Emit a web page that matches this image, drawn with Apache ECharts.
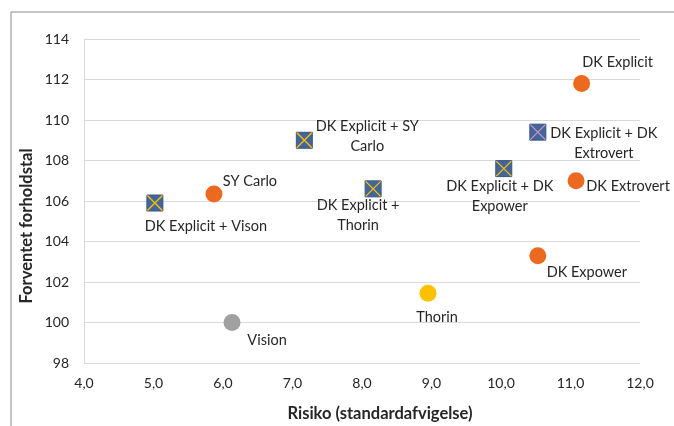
<!DOCTYPE html>
<html>
<head>
<meta charset="utf-8">
<script src="https://cdn.jsdelivr.net/npm/echarts@6/dist/echarts.min.js"></script>
<style>
  html, body { margin: 0; padding: 0; background: #fff; }
  #chart { width: 674px; height: 426px; }
</style>
</head>
<body>
<div id="chart"></div>
<script>
// enkeltstrategier (cirkler)
var singleNames  = ['DK Explicit', 'DK Extrovert', 'DK Expower', 'SY Carlo', 'Thorin', 'Vision'];
var singleRisk   = [11.16, 11.08, 10.53, 5.87, 8.95, 6.13];
var singleRatio  = [111.8, 107.0, 103.3, 106.35, 101.45, 100.0];
var singleColors = ['#ec6a1f', '#ec6a1f', '#ec6a1f', '#ec6a1f', '#ffc000', '#a0a0a0'];

// kombinationer (firkanter)
var comboNames  = ['DK Explicit + Vison', 'DK Explicit + SY\nCarlo', 'DK Explicit +\nThorin', 'DK Explicit + DK\nExpower', 'DK Explicit + DK\nExtrovert'];
var comboRisk   = [5.02, 7.17, 8.16, 10.04, 10.53];
var comboRatio  = [105.9, 109.0, 106.6, 107.6, 109.4];
var comboCross  = ['#ffc000', '#ffc000', '#ffc000', '#ffc000', '#c795c8'];

var xTicks = [4, 5, 6, 7, 8, 9, 10, 11, 12];
var yTicks = [98, 100, 102, 104, 106, 108, 110, 112, 114];

// label offsets (fra punktets centrum)
var singleOffsets = [[36, -21], [52, 6], [49, 17], [36, -13], [9, 24], [35, 18]];
var comboOffsets  = [[51, 23], [63, -4], [-15, 26], [-4, 28], [66, 11]];

var FONT = 'Lato';
var TXT = '#262626';

function fmt(v) { return v.toFixed(1).replace('.', ','); }

var myChart = echarts.init(document.getElementById('chart'));

var singleData = [];
for (var i = 0; i < singleNames.length; i++) {
  singleData.push({
    name: singleNames[i],
    value: [singleRisk[i], singleRatio[i]],
    itemStyle: { color: singleColors[i] },
    label: { offset: singleOffsets[i] }
  });
}

var comboData = [], crossData = [];
for (var j = 0; j < comboNames.length; j++) {
  comboData.push({
    name: comboNames[j],
    value: [comboRisk[j], comboRatio[j]],
    label: { offset: comboOffsets[j] }
  });
  crossData.push({
    value: [comboRisk[j], comboRatio[j]],
    itemStyle: { borderColor: comboCross[j] }
  });
}

var labelStyle = {
  show: true,
  position: 'inside',
  formatter: '{b}',
  fontFamily: FONT,
  fontSize: 14.5,
  lineHeight: 20,
  color: TXT,
  align: 'center',
  verticalAlign: 'middle'
};

var options = {
  animation: false,
  grid: { left: 84, right: 34, top: 39, bottom: 63 },
  xAxis: {
    type: 'value',
    min: xTicks[0],
    max: xTicks[xTicks.length - 1],
    interval: 1,
    axisLine: { show: false },
    axisTick: { show: false },
    splitLine: { show: false },
    axisLabel: { formatter: fmt, fontFamily: FONT, fontSize: 14, color: TXT, margin: 13 }
  },
  yAxis: {
    type: 'value',
    min: yTicks[0],
    max: yTicks[yTicks.length - 1],
    interval: 2,
    axisLine: { show: true, lineStyle: { color: '#d9d9d9' } },
    axisTick: { show: false },
    splitLine: { show: true, lineStyle: { color: '#d9d9d9' } },
    axisLabel: { fontFamily: FONT, fontSize: 14, color: TXT, margin: 15 }
  },
  graphic: [
    { type: 'line', shape: { x1: 11, y1: 12, x2: 674, y2: 12 }, style: { stroke: '#8c8c8c', lineWidth: 1 } },
    { type: 'line', shape: { x1: 11, y1: 12, x2: 11, y2: 426 }, style: { stroke: '#8c8c8c', lineWidth: 1 } },
    { type: 'text', x: 27, y: 226, rotation: Math.PI / 2,
      style: { text: 'Forventet forholdstal', font: 'bold 16.5px ' + FONT, fill: TXT, textAlign: 'center', textVerticalAlign: 'middle' } },
    { type: 'text', x: 380, y: 414,
      style: { text: 'Risiko (standardafvigelse)', font: 'bold 16.5px ' + FONT, fill: TXT, textAlign: 'center', textVerticalAlign: 'middle' } }
  ],
  series: [
    {
      name: 'enkelt',
      type: 'scatter',
      symbol: 'circle',
      symbolSize: 17,
      itemStyle: { opacity: 1 },
      data: singleData,
      label: labelStyle
    },
    {
      name: 'kombi',
      type: 'scatter',
      symbol: 'rect',
      symbolSize: 16,
      itemStyle: { color: '#44659a', borderColor: '#3a5682', borderWidth: 1, opacity: 1 },
      data: comboData,
      label: labelStyle
    },
    {
      name: 'kryds',
      type: 'scatter',
      symbol: 'path://M0,0L10,10M10,0L0,10',
      symbolSize: 15,
      itemStyle: { color: 'none', borderWidth: 1.3, opacity: 1 },
      data: crossData,
      silent: true
    }
  ]
};
myChart.setOption(options);
</script>
</body>
</html>
